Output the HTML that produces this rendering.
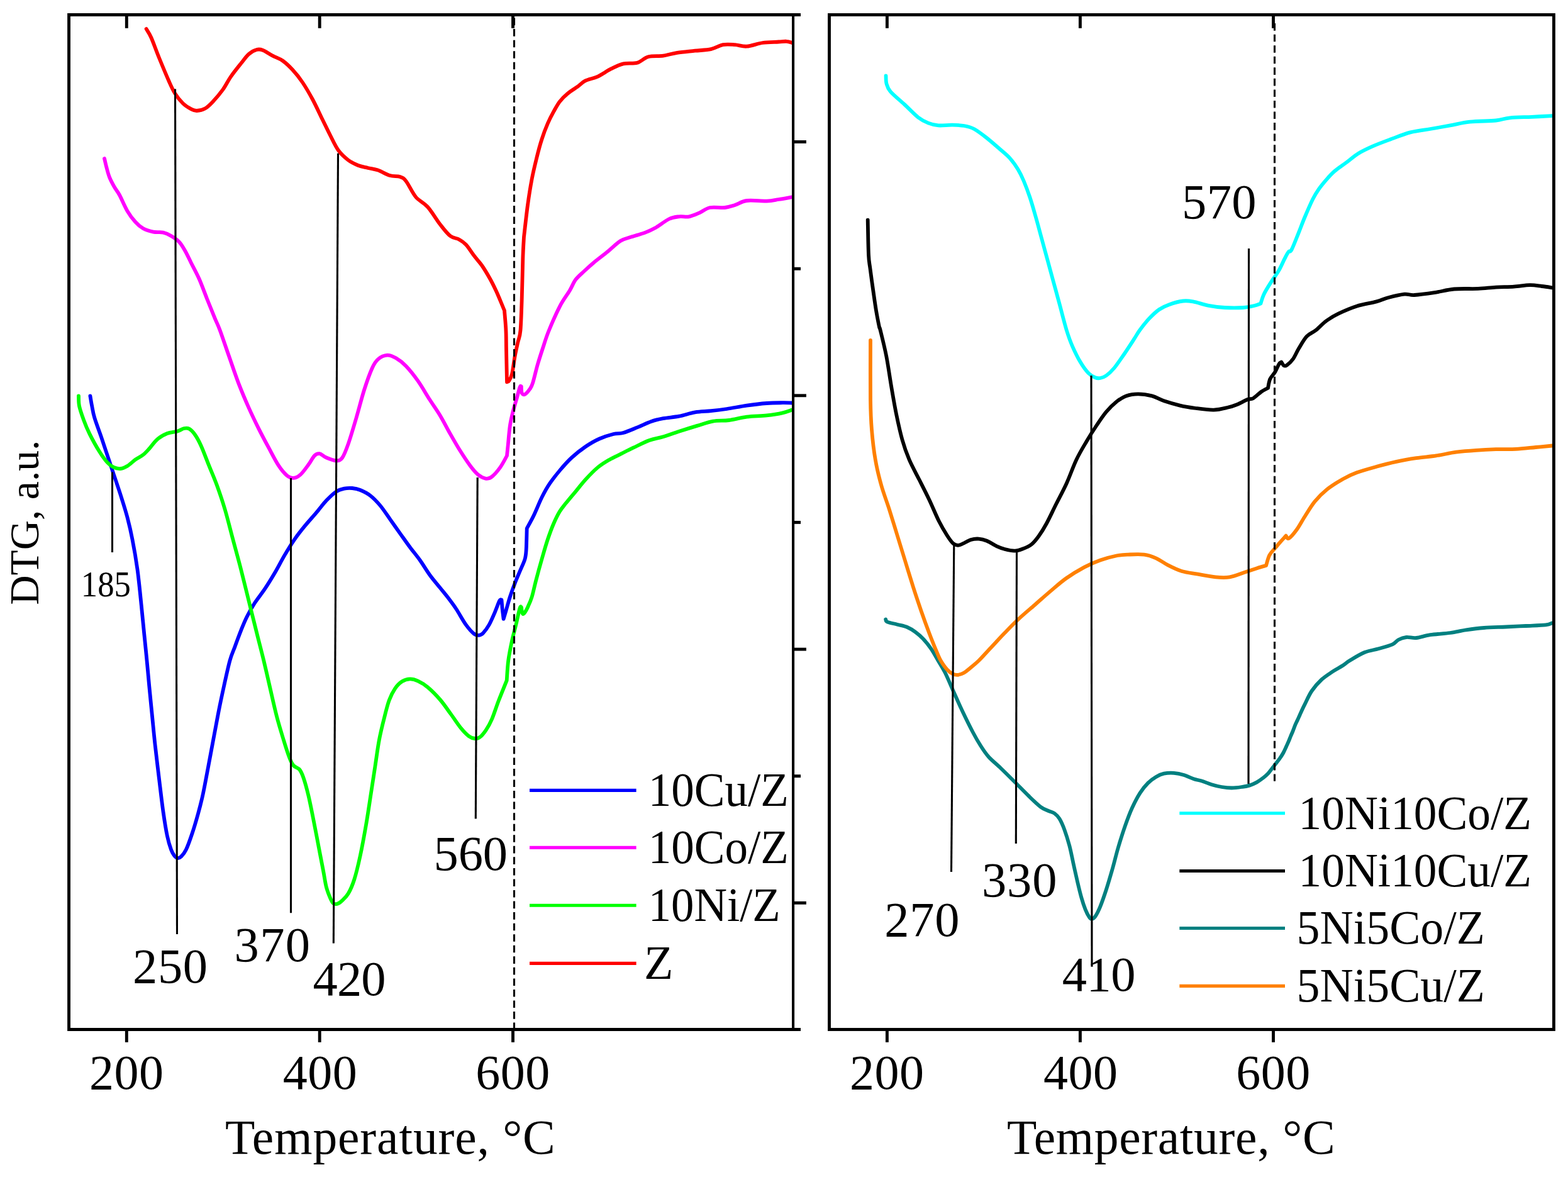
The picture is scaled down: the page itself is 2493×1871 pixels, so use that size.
<!DOCTYPE html>
<html lang="en"><head><meta charset="utf-8"><title>DTG curves</title>
<style>html,body{margin:0;padding:0;background:#fff}body{width:2493px;height:1871px;overflow:hidden}svg{display:block}text{font-family:"Liberation Serif","DejaVu Serif",serif;fill:#000}.c{fill:none;stroke-width:5.8;stroke-linejoin:round;stroke-linecap:round}.f{fill:none;stroke:#000;stroke-width:4.9;stroke-linecap:butt}.t{stroke:#000;stroke-width:4.9}.v{stroke:#000;stroke-width:3.1}.d{stroke:#000;stroke-width:3.1;stroke-dasharray:11.6 5.95}.l{stroke-width:5.1;stroke-linecap:butt}.n{font-size:76px}</style></head><body>
<svg width="2493" height="1871" viewBox="0 0 2493 1871">
<rect width="2493" height="1871" fill="#fff"/>
<path class="c" stroke="#0000ff" d="M143.4 629.4C143.9 632.0 145.0 639.5 146.2 645.3C147.3 651.1 147.8 655.8 150.3 664.2C152.8 672.6 158.0 685.9 161.4 695.9C164.8 705.9 167.7 714.9 170.9 724.4C174.1 733.9 176.7 741.7 180.4 752.8C184.1 763.9 189.3 779.2 193.0 790.8C196.7 802.4 199.6 811.4 202.5 822.5C205.4 833.6 207.8 843.6 210.4 857.3C213.1 871.0 216.0 887.3 218.4 904.7C220.8 922.1 222.9 944.3 224.7 961.7C226.5 979.1 227.9 994.5 229.4 1009.2C230.9 1023.9 232.2 1036.4 233.5 1050.0C234.8 1063.6 235.9 1076.2 237.3 1091.0C238.7 1105.8 240.4 1122.8 242.0 1138.6C243.6 1154.4 244.9 1169.1 246.8 1186.0C248.7 1202.9 251.1 1222.6 253.2 1240.0C255.3 1257.4 257.4 1275.8 259.5 1290.5C261.6 1305.2 263.7 1318.5 265.8 1328.5C267.9 1338.5 270.1 1345.3 272.0 1350.6C273.9 1355.8 275.3 1357.8 277.0 1360.0C278.7 1362.2 280.5 1363.7 282.3 1364.0C284.1 1364.3 285.7 1363.9 288.0 1361.7C290.3 1359.5 293.0 1356.7 295.9 1350.6C298.8 1344.5 302.2 1334.8 305.4 1325.3C308.6 1315.8 312.0 1304.2 314.9 1293.7C317.8 1283.2 320.2 1274.1 322.8 1262.0C325.4 1249.9 327.8 1236.3 330.7 1221.0C333.6 1205.7 337.3 1185.6 340.2 1170.3C343.1 1155.0 345.4 1142.2 348.0 1129.0C350.6 1115.8 353.1 1104.2 356.0 1091.0C358.9 1077.8 362.6 1060.5 365.5 1050.0C368.4 1039.5 370.5 1036.1 373.4 1028.2C376.3 1020.3 379.7 1010.7 382.9 1002.8C386.1 994.9 388.7 988.1 392.4 980.7C396.1 973.3 400.2 965.9 405.0 958.5C409.8 951.1 415.6 944.3 420.9 936.4C426.2 928.5 431.4 920.0 436.7 911.0C442.0 902.0 447.2 891.6 452.5 882.6C457.8 873.6 463.1 864.9 468.4 857.3C473.7 849.6 478.4 843.8 484.2 836.7C490.0 829.6 497.4 821.5 503.2 814.6C509.0 807.8 513.7 801.2 519.0 795.6C524.3 790.0 530.0 784.5 534.8 781.3C539.5 778.1 543.3 777.5 547.5 776.6C551.7 775.7 555.8 775.6 560.0 776.0C564.2 776.4 568.0 777.0 572.8 779.0C577.6 781.0 583.3 783.6 588.6 787.7C593.9 791.8 599.1 797.2 604.4 803.5C609.7 809.8 615.0 818.2 620.3 825.6C625.6 833.0 630.7 840.4 636.0 847.8C641.3 855.2 646.6 862.9 651.9 870.0C657.2 877.1 662.4 883.1 667.7 890.5C673.0 897.9 678.1 906.8 683.5 914.2C688.9 921.6 695.1 928.7 700.0 934.8C704.9 940.9 708.5 945.1 712.7 950.6C716.9 956.1 720.6 960.9 725.3 968.0C730.0 975.1 736.2 986.8 741.0 993.4C745.8 1000.0 750.3 1004.9 753.8 1007.6C757.2 1010.3 759.3 1010.0 761.7 1009.8C764.1 1009.6 765.4 1009.3 768.0 1006.6C770.6 1003.9 774.3 999.0 777.5 993.4C780.7 987.8 784.2 979.2 787.0 972.8C789.8 966.3 792.5 957.9 794.3 954.7C796.0 951.5 797.0 953.9 797.5 953.8C797.7 956.2 798.2 963.0 798.7 968.0C799.2 973.0 800.3 981.2 800.6 983.9C801.2 981.8 802.7 977.0 804.4 971.2C806.1 965.4 808.4 956.4 810.8 949.0C813.2 941.6 816.1 933.8 818.7 927.0C821.3 920.2 824.0 914.3 826.6 908.0C829.2 901.7 832.8 894.8 834.5 889.0C836.2 883.2 836.2 881.2 836.7 873.0C837.2 864.8 837.5 845.5 837.7 840.0C839.5 836.5 844.8 827.5 848.7 819.3C852.7 811.1 857.2 799.2 861.4 790.8C865.6 782.4 869.2 775.8 874.0 768.7C878.8 761.6 884.1 754.9 889.9 748.0C895.7 741.1 902.0 733.8 908.9 727.5C915.8 721.2 923.6 715.0 931.0 710.0C938.4 705.0 945.6 700.8 953.0 697.5C960.4 694.2 969.0 691.6 975.3 690.0C981.6 688.4 984.7 689.8 991.0 688.0C997.3 686.2 1005.9 682.4 1013.3 679.4C1020.7 676.4 1028.6 672.4 1035.4 670.0C1042.2 667.6 1047.0 666.6 1054.4 665.2C1061.8 663.8 1071.3 663.3 1079.7 661.7C1088.1 660.1 1096.5 656.8 1105.0 655.4C1113.5 654.0 1122.0 654.1 1130.4 653.2C1138.9 652.3 1146.2 651.4 1155.7 650.0C1165.2 648.6 1176.8 646.1 1187.3 644.6C1197.8 643.1 1209.5 641.7 1219.0 641.0C1228.5 640.3 1237.6 640.3 1244.3 640.2C1251.0 640.1 1256.7 640.5 1259.2 640.5"/>
<path class="c" stroke="#ff00ff" d="M166.0 252.0C166.6 254.3 168.0 260.9 169.3 265.8C170.6 270.7 171.9 276.3 174.0 281.6C176.1 286.9 179.3 292.8 182.0 297.5C184.7 302.2 186.6 303.7 190.0 310.0C193.4 316.3 198.3 328.3 202.5 335.4C206.7 342.5 211.0 348.1 215.2 352.8C219.4 357.5 223.1 360.7 227.8 363.3C232.6 365.9 238.4 367.6 243.7 368.7C249.0 369.8 254.8 368.6 259.5 369.6C264.2 370.7 267.8 372.5 272.0 375.0C276.2 377.5 281.1 380.6 284.8 384.5C288.5 388.4 291.1 393.2 294.3 398.7C297.5 404.2 300.1 410.3 303.8 417.7C307.5 425.1 312.3 433.5 316.5 443.0C320.7 452.5 324.8 464.1 329.0 474.7C333.2 485.2 338.4 497.9 341.8 506.3C345.2 514.7 346.0 515.0 349.7 525.0C353.4 535.0 359.0 551.8 364.0 566.0C369.0 580.2 374.4 596.7 379.7 610.4C385.0 624.1 390.3 636.5 395.6 648.4C400.9 660.3 406.1 671.0 411.4 681.6C416.7 692.2 421.9 701.9 427.2 711.7C432.5 721.5 438.2 732.9 443.0 740.2C447.8 747.5 451.7 752.1 455.7 755.4C459.7 758.7 463.1 760.0 466.8 759.8C470.5 759.6 473.9 757.9 477.8 754.4C481.8 750.9 486.8 743.6 490.5 738.6C494.2 733.6 497.1 727.3 500.0 724.4C502.9 721.5 504.8 720.7 508.0 721.2C511.2 721.7 514.5 725.6 519.0 727.5C523.5 729.4 530.6 732.3 534.8 732.3C539.0 732.3 541.1 732.0 544.3 727.5C547.5 723.0 550.1 715.9 553.8 705.4C557.5 694.9 562.3 678.4 566.5 664.2C570.7 650.0 574.8 633.2 579.0 620.0C583.2 606.8 588.1 593.2 591.8 585.0C595.5 576.8 597.3 574.3 601.3 570.9C605.2 567.5 610.8 564.9 615.5 564.6C620.2 564.3 624.7 566.4 629.7 569.3C634.7 572.2 639.8 575.9 645.6 582.0C651.4 588.1 658.3 596.7 664.6 605.7C670.9 614.7 677.6 626.6 683.5 635.8C689.4 645.0 694.6 652.0 700.0 661.0C705.4 670.0 710.5 680.4 715.8 689.6C721.1 698.9 726.3 708.1 731.6 716.5C736.9 724.9 742.8 733.9 747.5 740.2C752.2 746.5 755.8 751.0 760.0 754.4C764.2 757.8 769.1 760.3 772.8 760.8C776.5 761.3 778.6 760.5 782.3 757.6C786.0 754.7 791.0 748.9 795.0 743.4C799.0 737.9 804.2 727.6 806.0 724.4C806.3 721.8 806.8 716.4 807.6 708.5C808.4 700.6 809.5 686.0 810.8 677.0C812.1 668.0 813.7 662.1 815.5 654.7C817.3 647.3 819.9 639.2 821.8 632.6C823.6 626.0 825.4 618.3 826.6 615.2C827.8 612.1 828.4 614.4 828.8 614.2C828.9 616.0 828.8 622.6 829.7 624.7C830.7 626.8 832.4 628.0 834.5 627.0C836.6 626.0 840.3 621.4 842.4 618.4C844.5 615.4 844.9 615.5 847.0 608.9C849.1 602.3 852.3 588.0 855.0 578.8C857.7 569.6 860.1 562.3 863.0 553.5C865.9 544.7 868.0 537.0 872.5 526.0C877.0 515.0 884.4 498.0 889.9 487.3C895.4 476.6 901.5 469.1 905.7 462.0C909.9 454.9 911.5 449.6 915.2 444.6C918.9 439.6 923.0 436.5 927.8 432.0C932.5 427.5 937.4 423.0 943.7 417.7C950.0 412.4 958.7 406.1 965.8 400.3C972.9 394.5 980.1 386.9 986.4 383.0C992.7 379.1 997.2 378.8 1003.8 376.6C1010.4 374.4 1019.7 372.0 1026.0 369.6C1032.3 367.2 1035.5 365.9 1041.8 362.3C1048.1 358.7 1057.7 351.0 1064.0 348.0C1070.3 345.0 1074.4 344.9 1079.7 344.3C1085.0 343.7 1090.3 345.2 1095.6 344.3C1100.9 343.4 1105.9 341.0 1111.4 338.6C1116.9 336.2 1122.0 331.4 1128.8 330.0C1135.6 328.6 1145.9 330.7 1152.5 330.0C1159.1 329.3 1162.6 327.8 1168.4 326.0C1174.2 324.2 1178.9 320.1 1187.3 319.0C1195.7 317.9 1210.5 319.9 1219.0 319.6C1227.5 319.3 1231.3 318.1 1238.0 317.0C1244.7 315.9 1255.7 313.9 1259.2 313.3"/>
<path class="c" stroke="#00ff00" d="M125.0 629.4C125.2 632.0 124.7 639.0 126.0 645.3C127.3 651.6 130.3 660.0 133.0 667.4C135.7 674.8 138.2 681.2 142.4 689.6C146.6 698.0 153.4 710.4 158.2 718.0C162.9 725.6 167.2 731.3 170.9 735.4C174.6 739.5 177.0 741.1 180.4 742.7C183.8 744.3 187.8 745.3 191.5 745.0C195.2 744.7 198.6 743.2 202.5 740.8C206.4 738.4 211.0 733.7 215.2 730.7C219.4 727.7 224.1 725.7 227.8 722.8C231.5 719.9 233.6 717.4 237.3 713.3C241.0 709.2 245.2 702.4 250.0 698.4C254.8 694.4 260.5 691.1 265.8 689.0C271.1 686.9 277.1 687.1 281.6 685.8C286.1 684.5 289.5 681.7 292.7 681.0C295.9 680.3 297.7 679.9 300.6 681.6C303.5 683.3 306.8 686.5 310.0 691.0C313.2 695.5 315.9 700.3 319.6 708.5C323.3 716.7 328.1 729.7 332.3 740.2C336.5 750.8 340.8 760.2 345.0 771.8C349.2 783.4 353.4 795.5 357.6 809.8C361.8 824.0 366.1 841.5 370.3 857.3C374.5 873.1 378.8 888.4 383.0 904.7C387.2 921.1 391.4 938.5 395.6 955.4C399.8 972.3 404.2 990.2 408.2 1006.0C412.1 1021.8 415.9 1035.8 419.3 1050.0C422.7 1064.2 425.4 1076.2 428.8 1091.0C432.2 1105.8 436.2 1124.3 439.9 1138.6C443.6 1152.9 447.6 1165.5 451.0 1176.6C454.4 1187.7 457.8 1198.3 460.4 1205.0C463.0 1211.7 464.1 1213.9 466.8 1217.0C469.5 1220.1 473.7 1220.1 476.3 1223.4C478.9 1226.7 480.2 1229.7 482.6 1236.7C485.0 1243.7 487.9 1254.1 490.5 1265.2C493.1 1276.3 495.8 1290.0 498.4 1303.2C501.0 1316.4 503.7 1330.6 506.3 1344.3C508.9 1358.0 512.1 1374.3 514.2 1385.4C516.3 1396.5 517.1 1403.7 519.0 1410.8C520.9 1417.9 523.5 1424.0 525.3 1428.2C527.1 1432.4 528.1 1434.6 530.0 1436.0C531.9 1437.4 534.0 1437.5 536.4 1436.7C538.8 1435.9 541.4 1434.0 544.3 1431.3C547.2 1428.6 550.6 1425.8 553.8 1420.3C557.0 1414.8 560.1 1408.0 563.3 1398.0C566.5 1388.0 569.6 1374.8 572.8 1360.0C576.0 1345.2 579.4 1326.3 582.3 1309.5C585.2 1292.7 587.8 1274.2 590.2 1258.9C592.6 1243.6 594.4 1231.4 596.5 1217.7C598.6 1204.0 600.4 1189.2 602.8 1176.6C605.2 1163.9 608.1 1152.3 610.8 1141.8C613.4 1131.2 615.8 1121.2 618.7 1113.3C621.6 1105.4 624.8 1099.3 628.2 1094.3C631.6 1089.3 635.2 1085.7 639.2 1083.2C643.2 1080.7 647.7 1079.5 651.9 1079.4C656.1 1079.3 659.9 1080.4 664.6 1082.6C669.4 1084.8 674.5 1087.7 680.4 1092.7C686.3 1097.7 693.9 1105.4 700.0 1112.5C706.1 1119.6 711.5 1127.9 717.0 1135.4C722.5 1142.9 728.2 1151.8 733.0 1157.6C737.8 1163.4 741.9 1167.6 745.6 1170.3C749.3 1173.0 752.1 1173.8 755.0 1174.0C757.9 1174.2 760.1 1174.0 763.0 1171.8C765.9 1169.6 769.3 1165.5 772.5 1160.8C775.7 1156.1 778.6 1151.3 782.0 1143.4C785.4 1135.5 789.0 1123.6 793.0 1113.3C797.0 1103.0 803.6 1086.9 805.7 1081.6C806.1 1076.3 806.8 1060.5 808.2 1050.0C809.6 1039.5 812.0 1028.1 814.0 1018.7C816.0 1009.3 818.2 1002.1 820.3 993.4C822.4 984.7 825.1 971.1 826.6 966.5C828.1 961.9 828.6 965.7 829.0 965.5C829.2 967.0 829.7 972.8 830.4 974.4C831.1 976.0 831.5 976.9 833.0 975.3C834.5 973.7 837.1 969.3 839.2 964.9C841.3 960.5 843.5 955.9 845.6 949.0C847.7 942.1 849.3 933.7 851.9 923.7C854.5 913.7 858.2 900.1 861.4 889.0C864.6 877.9 867.7 866.8 870.9 857.3C874.1 847.8 877.2 839.4 880.4 832.0C883.6 824.6 886.7 818.3 889.9 813.0C893.1 807.7 895.2 805.6 899.4 800.3C903.6 795.0 909.9 787.6 915.2 781.3C920.5 775.0 925.2 768.6 931.0 762.3C936.8 756.0 943.7 748.7 950.0 743.4C956.3 738.1 962.7 734.4 969.0 730.7C975.3 727.0 981.7 724.4 988.0 721.2C994.3 718.0 999.6 715.2 1007.0 711.7C1014.4 708.2 1024.4 702.9 1032.3 700.0C1040.2 697.1 1046.5 696.7 1054.4 694.3C1062.3 691.9 1070.7 688.7 1079.7 685.8C1088.7 682.9 1099.2 679.6 1108.2 676.9C1117.2 674.2 1125.0 671.1 1133.5 669.6C1142.0 668.1 1149.9 669.1 1158.9 668.0C1167.9 666.9 1177.3 664.0 1187.3 662.7C1197.3 661.4 1209.5 661.5 1219.0 660.4C1228.5 659.3 1237.6 657.8 1244.3 656.3C1251.0 654.8 1256.7 652.4 1259.2 651.6"/>
<path class="c" stroke="#ff0000" d="M232.6 45.9C233.9 48.2 237.1 52.3 240.5 60.0C243.9 67.7 248.2 80.3 253.0 92.0C257.8 103.7 264.8 120.5 269.0 130.0C273.2 139.5 274.8 143.2 278.5 149.0C282.2 154.8 286.8 160.4 291.0 164.5C295.2 168.6 300.3 171.5 304.0 173.4C307.7 175.3 309.3 176.2 313.0 176.0C316.7 175.8 321.7 174.9 326.0 172.5C330.3 170.1 333.9 166.4 338.6 161.4C343.3 156.4 349.7 149.0 354.4 142.4C359.1 135.8 362.2 128.7 367.0 121.8C371.8 114.9 378.2 107.0 383.0 101.0C387.8 95.0 391.4 89.7 395.6 86.0C399.8 82.3 404.3 80.0 408.0 79.0C411.7 78.0 413.4 78.1 417.7 79.7C421.9 81.3 428.2 85.8 433.5 88.6C438.8 91.4 444.1 92.8 449.4 96.5C454.6 100.2 459.7 105.0 465.0 110.8C470.3 116.5 475.7 123.1 481.0 131.0C486.3 138.9 491.7 148.2 497.0 158.0C502.3 167.8 508.0 180.5 512.7 190.0C517.4 199.5 520.8 206.8 525.0 215.0C529.2 223.2 533.2 232.4 538.0 239.0C542.8 245.6 548.7 250.7 554.0 254.7C559.3 258.7 564.4 260.9 569.6 263.0C574.8 265.1 579.8 265.7 585.0 267.0C590.2 268.3 595.2 268.6 601.0 270.6C606.8 272.6 614.2 277.3 620.0 279.0C625.8 280.7 631.7 279.5 636.0 281.0C640.3 282.5 641.4 282.7 645.6 288.0C649.8 293.3 655.3 306.2 661.0 313.0C666.7 319.8 673.5 321.7 680.0 329.0C686.5 336.3 694.0 349.3 700.0 357.0C706.0 364.7 710.8 371.1 715.8 375.0C720.8 378.9 725.8 378.4 730.0 380.7C734.2 383.0 737.0 384.7 741.0 389.0C745.0 393.3 749.5 401.0 753.8 406.6C758.0 412.2 762.3 416.4 766.5 422.5C770.7 428.6 775.3 436.4 779.0 443.0C782.7 449.6 785.4 455.2 788.6 462.0C791.8 468.8 795.8 478.7 798.0 484.0C800.2 489.3 801.3 492.1 802.0 493.7C802.4 498.9 803.9 514.5 804.4 525.0C804.9 535.5 804.7 542.9 805.0 556.6C805.3 570.3 805.8 598.8 806.0 607.3C806.5 607.0 807.7 607.8 809.0 605.7C810.3 603.6 812.4 601.2 814.0 594.6C815.6 588.0 817.1 574.4 818.7 566.0C820.3 557.6 821.9 550.8 823.4 544.0C824.9 537.2 826.5 536.5 827.5 525.0C828.5 513.5 829.1 493.6 829.7 474.7C830.3 455.8 830.8 427.8 831.3 411.4C831.8 395.0 832.7 382.4 833.0 376.6C834.0 368.2 836.9 341.3 839.0 326.0C841.1 310.7 843.2 297.5 845.6 284.8C848.0 272.1 850.9 260.6 853.5 250.0C856.1 239.4 858.5 230.5 861.4 221.5C864.3 212.5 867.7 203.6 870.9 196.2C874.1 188.8 877.2 183.0 880.4 177.2C883.6 171.4 886.2 166.2 889.9 161.4C893.6 156.7 897.8 152.6 902.5 148.7C907.2 144.8 913.6 141.1 918.4 137.7C923.1 134.3 925.7 130.8 931.0 128.2C936.3 125.5 943.2 125.0 950.0 121.8C956.8 118.6 965.2 112.6 972.0 109.2C978.8 105.8 984.1 102.9 991.0 101.3C997.9 99.7 1006.7 101.5 1013.3 99.7C1019.9 97.9 1023.9 92.1 1030.7 90.2C1037.6 88.3 1046.8 89.6 1054.4 88.6C1062.1 87.5 1068.2 85.2 1076.6 83.9C1085.0 82.6 1096.0 81.7 1105.0 80.7C1114.0 79.8 1123.0 79.8 1130.4 78.2C1137.8 76.6 1143.1 72.4 1149.4 71.2C1155.7 70.0 1162.1 70.8 1168.4 71.2C1174.7 71.6 1179.9 74.2 1187.3 73.7C1194.7 73.2 1204.2 69.2 1212.7 68.0C1221.2 66.8 1231.7 66.9 1238.0 66.5C1244.3 66.1 1247.1 65.5 1250.6 65.8C1254.1 66.0 1257.8 67.6 1259.2 68.0"/>
<path class="c" stroke="#00ffff" d="M1408.5 120.3C1408.7 122.4 1408.3 128.8 1409.5 133.0C1410.7 137.2 1411.0 140.1 1415.8 145.6C1420.5 151.1 1430.6 159.2 1438.0 166.0C1445.4 172.8 1453.7 181.8 1460.0 186.7C1466.3 191.6 1470.7 193.5 1476.0 195.6C1481.3 197.7 1485.5 198.9 1491.8 199.4C1498.1 199.9 1507.1 198.6 1514.0 198.7C1520.9 198.8 1527.2 198.9 1533.0 200.0C1538.8 201.1 1542.9 201.9 1548.7 205.0C1554.5 208.1 1560.8 213.0 1567.7 218.4C1574.6 223.8 1583.7 231.8 1590.0 237.3C1596.3 242.8 1601.0 246.3 1605.7 251.6C1610.4 256.9 1614.7 262.9 1618.4 269.0C1622.1 275.1 1624.7 280.6 1627.8 288.0C1630.9 295.4 1634.1 303.8 1637.3 313.3C1640.5 322.8 1643.6 333.9 1646.8 345.0C1650.0 356.1 1653.1 368.1 1656.3 379.7C1659.5 391.3 1662.6 403.0 1665.8 414.6C1669.0 426.2 1672.1 437.8 1675.3 449.4C1678.5 461.0 1681.4 471.6 1684.8 484.2C1688.2 496.8 1692.4 514.0 1695.8 525.0C1699.2 536.0 1701.3 541.9 1705.0 550.3C1708.7 558.7 1713.5 568.5 1717.7 575.6C1721.9 582.7 1726.4 588.9 1730.4 593.0C1734.4 597.1 1738.3 599.0 1741.5 600.3C1744.7 601.6 1746.5 601.5 1749.4 601.0C1752.3 600.5 1755.2 599.7 1758.9 597.0C1762.6 594.3 1766.8 590.7 1771.5 585.0C1776.2 579.3 1782.0 570.6 1787.3 563.0C1792.5 555.4 1798.9 545.5 1803.0 539.2C1807.1 532.9 1808.0 530.5 1812.0 525.0C1816.0 519.5 1822.0 511.8 1827.2 506.3C1832.4 500.8 1837.7 495.7 1843.0 492.0C1848.3 488.3 1852.6 486.4 1858.9 484.2C1865.2 481.9 1874.7 479.3 1881.0 478.5C1887.3 477.7 1890.0 478.2 1896.8 479.4C1903.6 480.6 1913.5 484.2 1922.0 485.8C1930.5 487.4 1938.5 488.5 1947.5 489.0C1956.5 489.5 1968.1 489.5 1976.0 489.0C1983.9 488.5 1990.3 486.9 1995.0 485.8C1999.7 484.7 2002.8 483.1 2004.4 482.6C2005.2 480.2 2006.6 473.9 2009.2 468.4C2011.8 462.9 2016.3 455.7 2020.3 449.4C2024.3 443.1 2029.3 436.7 2033.0 430.4C2036.7 424.1 2039.8 416.4 2042.4 411.4C2045.0 406.4 2046.8 402.7 2048.7 400.3C2050.5 397.9 2050.8 402.0 2053.5 397.0C2056.2 392.0 2061.1 379.0 2064.6 370.3C2068.1 361.6 2070.8 354.0 2074.6 345.0C2078.4 336.0 2083.6 323.9 2087.3 316.5C2091.0 309.1 2093.1 305.9 2096.8 300.6C2100.5 295.3 2105.3 289.6 2109.5 284.8C2113.7 280.0 2116.8 276.5 2122.0 272.0C2127.2 267.5 2134.7 262.7 2141.0 258.0C2147.3 253.3 2153.1 247.9 2160.0 243.7C2166.9 239.5 2173.8 236.3 2182.2 232.6C2190.6 228.9 2200.7 225.2 2210.7 221.5C2220.7 217.8 2231.8 213.2 2242.4 210.4C2253.0 207.7 2263.4 206.8 2274.0 205.0C2284.6 203.2 2295.1 201.3 2305.7 199.4C2316.2 197.5 2325.2 195.0 2337.3 193.7C2349.4 192.4 2367.9 192.6 2378.5 191.5C2389.1 190.4 2391.1 188.2 2400.6 187.3C2410.1 186.4 2424.2 186.3 2435.4 185.8C2446.6 185.3 2462.6 184.5 2468.0 184.2"/>
<path class="c" stroke="#000000" d="M1379.7 349.7C1379.9 358.9 1380.4 392.1 1381.0 405.0C1381.6 417.9 1382.3 417.5 1383.5 427.0C1384.7 436.5 1386.7 450.9 1388.3 462.0C1389.9 473.1 1391.4 484.2 1393.0 493.7C1394.6 503.2 1396.7 513.8 1397.8 519.0C1398.9 524.2 1397.8 517.2 1399.7 525.0C1401.6 532.8 1406.3 551.2 1409.2 566.0C1412.1 580.8 1414.4 598.3 1417.0 613.6C1419.6 628.9 1422.1 643.8 1425.0 658.0C1427.9 672.2 1431.1 686.9 1434.5 699.0C1437.9 711.1 1441.1 720.2 1445.6 730.7C1450.1 741.2 1456.1 751.8 1461.4 762.3C1466.7 772.8 1471.9 782.9 1477.2 794.0C1482.5 805.1 1488.2 819.3 1493.0 828.8C1497.8 838.3 1502.0 845.2 1505.7 851.0C1509.4 856.8 1512.3 861.0 1515.2 863.6C1518.1 866.2 1520.4 866.7 1523.0 866.8C1525.6 866.9 1527.5 865.7 1531.0 864.2C1534.5 862.7 1539.5 859.3 1543.7 858.0C1547.9 856.7 1552.1 856.3 1556.3 856.6C1560.5 856.9 1564.2 857.8 1569.0 859.8C1573.8 861.8 1580.0 866.2 1584.8 868.4C1589.5 870.6 1592.8 871.8 1597.5 873.0C1602.2 874.2 1608.5 875.7 1613.3 875.6C1618.0 875.5 1621.5 874.2 1626.0 872.5C1630.5 870.8 1636.0 868.5 1640.2 865.2C1644.4 861.9 1647.3 858.0 1651.3 852.5C1655.3 847.0 1659.3 840.7 1664.0 832.0C1668.7 823.3 1674.4 810.8 1679.7 800.3C1685.0 789.8 1690.3 780.3 1695.6 768.7C1700.9 757.1 1706.1 741.8 1711.4 730.7C1716.7 719.6 1721.9 711.2 1727.2 702.2C1732.5 693.2 1737.7 684.9 1743.0 677.0C1748.3 669.1 1753.6 661.0 1758.9 654.7C1764.2 648.4 1769.4 643.2 1774.7 639.0C1780.0 634.8 1784.7 631.5 1790.5 629.4C1796.3 627.3 1802.7 626.3 1809.5 626.3C1816.3 626.3 1824.8 627.6 1831.6 629.4C1838.4 631.2 1843.2 634.8 1850.6 637.3C1858.0 639.8 1867.5 642.6 1876.0 644.6C1884.5 646.6 1892.3 647.8 1901.3 649.0C1910.2 650.2 1921.3 651.8 1929.7 651.6C1938.1 651.4 1945.6 649.3 1951.9 647.8C1958.2 646.3 1962.4 644.8 1967.7 642.7C1973.0 640.6 1979.4 636.6 1983.5 635.0C1987.6 633.4 1988.8 635.2 1992.4 633.2C1996.0 631.2 2001.1 625.7 2005.0 623.0C2008.9 620.3 2014.2 617.8 2016.0 616.8C2016.5 614.4 2017.4 606.7 2019.3 602.5C2021.2 598.3 2024.8 595.5 2027.2 591.5C2029.6 587.5 2031.8 581.4 2033.5 578.8C2035.2 576.1 2036.7 576.1 2037.3 575.6C2038.0 576.5 2039.9 580.5 2041.4 581.3C2042.9 582.1 2043.8 582.1 2046.2 580.4C2048.6 578.7 2052.5 575.4 2055.7 570.9C2058.9 566.4 2061.5 559.6 2065.2 553.5C2068.9 547.4 2073.3 539.2 2077.8 534.5C2082.3 529.8 2086.7 529.2 2092.0 525.0C2097.3 520.8 2103.4 513.9 2109.5 509.5C2115.6 505.1 2120.5 502.2 2128.4 498.4C2136.3 494.6 2147.0 489.9 2157.0 486.7C2167.0 483.5 2180.2 481.7 2188.6 479.4C2197.0 477.1 2200.2 474.9 2207.6 473.0C2215.0 471.1 2226.1 468.4 2232.9 467.7C2239.8 467.0 2240.8 469.4 2248.7 469.0C2256.6 468.6 2269.8 466.8 2280.4 465.2C2291.0 463.6 2300.4 460.6 2312.0 459.5C2323.6 458.4 2338.9 459.4 2350.0 458.9C2361.1 458.4 2369.0 457.1 2378.5 456.6C2388.0 456.1 2398.0 456.3 2407.0 455.7C2416.0 455.1 2424.9 453.3 2432.3 453.2C2439.7 453.1 2445.4 454.3 2451.3 455.0C2457.2 455.7 2465.2 456.9 2468.0 457.3"/>
<path class="c" stroke="#008080" d="M1408.2 984.5C1408.6 985.2 1407.7 987.2 1410.8 988.6C1413.9 990.0 1421.3 991.3 1426.6 992.7C1431.9 994.1 1437.7 995.0 1442.4 997.0C1447.1 999.0 1450.8 1001.3 1455.0 1004.4C1459.2 1007.5 1463.5 1011.0 1467.7 1015.5C1471.9 1020.0 1476.4 1025.5 1480.4 1031.3C1484.4 1037.0 1487.8 1043.7 1491.5 1050.0C1495.2 1056.3 1498.5 1061.1 1502.5 1069.0C1506.5 1076.9 1510.5 1087.0 1515.2 1097.5C1520.0 1108.0 1525.7 1121.2 1531.0 1132.3C1536.3 1143.4 1542.0 1155.0 1546.8 1164.0C1551.5 1173.0 1555.3 1179.4 1559.5 1186.0C1563.7 1192.6 1567.0 1197.7 1572.2 1203.5C1577.5 1209.3 1584.2 1214.4 1591.0 1221.0C1597.8 1227.6 1605.9 1235.6 1613.3 1243.0C1620.7 1250.4 1628.6 1258.6 1635.4 1265.2C1642.2 1271.8 1649.1 1278.6 1654.4 1282.6C1659.7 1286.6 1663.3 1287.3 1667.0 1289.0C1670.7 1290.7 1673.7 1290.9 1676.6 1293.0C1679.5 1295.1 1681.9 1297.3 1684.5 1301.6C1687.1 1305.9 1689.8 1311.9 1692.4 1319.0C1695.0 1326.1 1697.9 1335.3 1700.3 1344.3C1702.7 1353.3 1704.5 1363.3 1706.6 1372.8C1708.7 1382.3 1710.9 1392.3 1713.0 1401.3C1715.1 1410.3 1717.2 1419.2 1719.3 1426.6C1721.4 1434.0 1723.5 1440.3 1725.6 1445.6C1727.7 1450.9 1730.3 1455.7 1732.0 1458.2C1733.7 1460.7 1734.4 1461.1 1736.0 1460.8C1737.6 1460.5 1739.3 1459.9 1741.5 1456.6C1743.7 1453.3 1746.5 1447.9 1749.4 1440.8C1752.3 1433.7 1755.7 1423.8 1758.9 1414.0C1762.1 1404.2 1765.2 1393.4 1768.4 1382.3C1771.6 1371.2 1774.4 1359.1 1777.8 1347.5C1781.2 1335.9 1785.2 1323.2 1788.9 1312.7C1792.6 1302.2 1796.0 1292.9 1800.0 1284.2C1804.0 1275.5 1808.5 1267.0 1812.7 1260.4C1816.9 1253.8 1821.1 1248.8 1825.3 1244.6C1829.5 1240.4 1833.8 1237.5 1838.0 1235.0C1842.2 1232.5 1845.8 1230.7 1850.6 1229.7C1855.3 1228.7 1861.2 1228.4 1866.5 1228.8C1871.8 1229.2 1877.0 1230.4 1882.3 1232.0C1887.5 1233.6 1893.2 1236.7 1898.0 1238.3C1902.8 1239.9 1906.0 1240.0 1910.8 1241.5C1915.6 1243.0 1921.3 1245.6 1926.6 1247.2C1931.9 1248.8 1937.1 1250.1 1942.4 1251.0C1947.7 1251.9 1952.9 1252.5 1958.2 1252.5C1963.5 1252.5 1969.3 1251.7 1974.0 1251.0C1978.7 1250.3 1982.5 1249.8 1986.5 1248.6C1990.5 1247.4 1994.3 1245.6 1998.0 1243.6C2001.7 1241.5 2005.7 1238.6 2008.7 1236.3C2011.7 1234.0 2013.8 1232.1 2016.0 1229.8C2018.2 1227.5 2019.9 1224.9 2021.7 1222.6C2023.5 1220.3 2024.8 1218.7 2026.8 1216.0C2028.8 1213.3 2031.7 1210.0 2034.0 1206.7C2036.3 1203.5 2038.7 1199.8 2040.5 1196.5C2042.3 1193.2 2043.7 1189.9 2045.0 1187.0C2046.3 1184.1 2047.3 1182.0 2048.5 1179.2C2049.7 1176.5 2050.8 1173.4 2052.0 1170.5C2053.2 1167.6 2054.5 1164.8 2055.7 1161.8C2056.9 1158.8 2058.1 1155.3 2059.3 1152.4C2060.5 1149.5 2061.8 1147.2 2063.0 1144.5C2064.2 1141.8 2065.5 1138.9 2066.6 1136.5C2067.7 1134.1 2068.2 1132.8 2069.5 1130.0C2070.8 1127.2 2071.8 1124.8 2074.5 1119.6C2077.2 1114.3 2081.1 1105.0 2085.5 1098.5C2089.9 1092.0 2095.4 1085.7 2101.0 1080.5C2106.6 1075.3 2113.4 1071.2 2119.0 1067.4C2124.6 1063.7 2130.3 1060.9 2134.8 1058.0C2139.3 1055.1 2140.2 1053.5 2146.0 1050.0C2151.8 1046.5 2162.0 1040.1 2169.6 1037.0C2177.2 1033.9 2184.3 1033.4 2191.7 1031.3C2199.1 1029.2 2208.6 1026.8 2213.9 1024.4C2219.2 1022.0 2219.7 1018.9 2223.4 1017.0C2227.1 1015.1 2231.2 1013.5 2236.0 1013.0C2240.8 1012.5 2245.6 1014.6 2251.9 1014.0C2258.2 1013.4 2265.0 1010.5 2274.0 1009.2C2283.0 1007.9 2296.2 1007.3 2305.7 1006.0C2315.2 1004.7 2322.0 1002.6 2331.0 1001.3C2340.0 1000.0 2348.9 998.8 2359.5 998.0C2370.1 997.2 2383.2 997.0 2394.3 996.5C2405.4 996.0 2415.4 995.5 2425.9 995.0C2436.4 994.5 2450.6 994.2 2457.6 993.4C2464.6 992.6 2466.3 990.7 2468.0 990.2"/>
<path class="c" stroke="#ff8000" d="M1384.0 540.8C1384.0 556.6 1383.7 612.1 1384.0 635.8C1384.3 659.5 1384.7 667.4 1386.0 683.2C1387.3 699.0 1389.2 715.9 1391.8 730.7C1394.3 745.5 1397.6 758.6 1401.3 771.8C1405.0 785.0 1409.7 796.6 1413.9 809.8C1418.1 823.0 1422.4 837.3 1426.6 851.0C1430.8 864.7 1435.0 878.3 1439.2 892.0C1443.4 905.7 1447.7 920.0 1451.9 933.2C1456.1 946.4 1460.4 959.1 1464.6 971.2C1468.8 983.3 1473.0 994.9 1477.2 1006.0C1481.4 1017.1 1486.8 1030.4 1489.9 1037.7C1493.0 1045.0 1493.0 1045.6 1495.6 1050.0C1498.2 1054.4 1502.4 1060.6 1505.7 1064.2C1509.0 1067.8 1512.3 1070.1 1515.2 1071.5C1518.1 1072.9 1520.1 1073.1 1523.0 1072.8C1525.9 1072.5 1529.1 1071.6 1532.6 1069.6C1536.0 1067.6 1539.8 1064.3 1543.7 1061.0C1547.7 1057.7 1551.0 1055.2 1556.3 1050.0C1561.6 1044.8 1568.4 1037.0 1575.3 1029.7C1582.2 1022.4 1590.1 1013.6 1597.5 1006.0C1604.9 998.4 1611.7 991.3 1619.6 983.9C1627.5 976.5 1636.5 969.1 1645.0 961.7C1653.5 954.3 1661.9 946.7 1670.3 939.6C1678.7 932.5 1686.6 925.3 1695.6 919.0C1704.5 912.7 1715.0 906.4 1724.0 901.6C1733.0 896.9 1741.0 893.5 1749.4 890.5C1757.9 887.5 1767.3 885.0 1774.7 883.5C1782.1 882.0 1786.3 881.9 1793.7 881.6C1801.1 881.3 1811.6 880.7 1819.0 881.6C1826.4 882.5 1831.7 884.5 1838.0 887.3C1844.3 890.1 1850.2 894.9 1857.0 898.4C1863.8 901.9 1871.1 905.6 1879.0 908.0C1886.9 910.4 1895.4 911.1 1904.4 912.7C1913.4 914.3 1924.6 916.6 1933.0 917.4C1941.4 918.2 1947.2 918.7 1955.0 917.4C1962.8 916.1 1972.4 911.9 1979.7 909.5C1987.0 907.1 1993.2 905.0 1998.7 903.2C2004.2 901.5 2010.6 899.7 2013.0 899.0C2013.9 896.3 2015.9 887.2 2018.3 882.6C2020.7 878.0 2024.1 875.2 2027.2 871.5C2030.3 867.8 2033.8 863.7 2036.7 860.4C2039.6 857.1 2043.3 853.1 2044.6 851.6C2045.4 852.3 2046.4 857.4 2049.3 855.7C2052.2 854.0 2057.8 847.3 2062.0 841.5C2066.2 835.7 2069.8 828.4 2074.6 821.0C2079.3 813.6 2084.7 804.3 2090.5 797.2C2096.3 790.1 2102.1 784.1 2109.5 778.2C2116.9 772.3 2126.9 766.2 2134.8 761.7C2142.7 757.2 2148.0 754.6 2157.0 751.3C2166.0 748.0 2178.1 744.7 2188.6 741.8C2199.1 738.9 2209.6 736.2 2220.2 733.9C2230.8 731.6 2241.3 729.8 2251.9 728.2C2262.5 726.6 2272.9 726.0 2283.5 724.4C2294.1 722.8 2304.6 720.1 2315.2 718.7C2325.8 717.3 2336.2 716.5 2346.8 715.8C2357.4 715.0 2368.0 714.5 2378.5 714.2C2389.0 713.9 2399.5 714.4 2410.0 713.9C2420.5 713.4 2432.0 711.9 2441.7 711.0C2451.4 710.1 2463.6 708.9 2468.0 708.5"/>
<line class="v" x1="278.5" y1="141.5" x2="281.5" y2="1485.0"/>
<line class="v" x1="462.5" y1="760.0" x2="462.5" y2="1451.3"/>
<line class="v" x1="537.5" y1="243.7" x2="530.3" y2="1499.4"/>
<line class="v" x1="759.2" y1="759.0" x2="756.3" y2="1301.6"/>
<line class="v" x1="178.5" y1="750.5" x2="178.5" y2="878.0"/>
<line class="v" x1="1516.8" y1="866.8" x2="1512.5" y2="1386.0"/>
<line class="v" x1="1616.5" y1="875.6" x2="1615.3" y2="1341.0"/>
<line class="v" x1="1735.0" y1="597.0" x2="1736.0" y2="1536.7"/>
<line class="v" x1="1985.5" y1="395.0" x2="1985.0" y2="1246.0"/>
<line class="d" x1="817.5" y1="28.55" x2="817.5" y2="1636.5"/>
<line class="d" x1="2026.5" y1="37.1" x2="2026.5" y2="1241.7"/>
<path class="f" d="M107.10 23.50H1273.00M107.10 1636.55H1273.00M109.55 23.50V1636.55"/>
<line stroke="#000" stroke-width="4.1" x1="1261.05" y1="23.50" x2="1261.05" y2="1636.55"/>
<rect class="f" x="1318.5" y="23.5" width="1151.9" height="1613.0"/>
<line class="t" x1="201.3" y1="23.5" x2="201.3" y2="44.8"/>
<line class="t" x1="201.3" y1="1636.5" x2="201.3" y2="1656.8"/>
<line class="t" x1="508.2" y1="23.5" x2="508.2" y2="44.8"/>
<line class="t" x1="508.2" y1="1636.5" x2="508.2" y2="1656.8"/>
<line class="t" x1="815.5" y1="23.5" x2="815.5" y2="44.8"/>
<line class="t" x1="815.5" y1="1636.5" x2="815.5" y2="1656.8"/>
<line class="t" x1="1410.4" y1="23.5" x2="1410.4" y2="44.8"/>
<line class="t" x1="1410.4" y1="1636.5" x2="1410.4" y2="1656.8"/>
<line class="t" x1="1717.4" y1="23.5" x2="1717.4" y2="44.8"/>
<line class="t" x1="1717.4" y1="1636.5" x2="1717.4" y2="1656.8"/>
<line class="t" x1="2024.5" y1="23.5" x2="2024.5" y2="44.8"/>
<line class="t" x1="2024.5" y1="1636.5" x2="2024.5" y2="1656.8"/>
<line stroke="#000" stroke-width="4.9" x1="1261.0" y1="225.5" x2="1281.9" y2="225.5"/>
<line stroke="#000" stroke-width="4.9" x1="1261.0" y1="427.2" x2="1273.0" y2="427.2"/>
<line stroke="#000" stroke-width="4.9" x1="1261.0" y1="628.8" x2="1281.9" y2="628.8"/>
<line stroke="#000" stroke-width="4.9" x1="1261.0" y1="830.4" x2="1273.0" y2="830.4"/>
<line stroke="#000" stroke-width="4.9" x1="1261.0" y1="1032.1" x2="1281.9" y2="1032.1"/>
<line stroke="#000" stroke-width="4.9" x1="1261.0" y1="1233.7" x2="1273.0" y2="1233.7"/>
<line stroke="#000" stroke-width="4.9" x1="1261.0" y1="1435.3" x2="1281.9" y2="1435.3"/>
<text x="142.1" y="1730.6" font-size="78" textLength="118.0" lengthAdjust="spacing">200</text>
<text x="449.8" y="1730.6" font-size="78" textLength="118.0" lengthAdjust="spacing">400</text>
<text x="756.2" y="1730.6" font-size="78" textLength="118.0" lengthAdjust="spacing">600</text>
<text x="1351.1" y="1730.6" font-size="78" textLength="118.0" lengthAdjust="spacing">200</text>
<text x="1659.0" y="1730.6" font-size="78" textLength="118.0" lengthAdjust="spacing">400</text>
<text x="1965.3" y="1730.6" font-size="78" textLength="118.0" lengthAdjust="spacing">600</text>
<text x="358.0" y="1834.3" font-size="77.5" textLength="524.8" lengthAdjust="spacing">Temperature, °C</text>
<text x="1601.0" y="1834.3" font-size="77.5" textLength="521.7" lengthAdjust="spacing">Temperature, °C</text>
<text transform="translate(60.9,961.8) rotate(-90)" font-size="66" textLength="262.3" lengthAdjust="spacingAndGlyphs">DTG, a.u.</text>
<text x="211.0" y="1562.2" font-size="78.5" textLength="119.0" lengthAdjust="spacing">250</text>
<text x="372.6" y="1528.0" font-size="78.5" textLength="120.5" lengthAdjust="spacing">370</text>
<text x="497.6" y="1581.5" font-size="78.5" textLength="116.0" lengthAdjust="spacing">420</text>
<text x="689.6" y="1382.5" font-size="78.5" textLength="117.5" lengthAdjust="spacing">560</text>
<text x="128.8" y="947.6" font-size="58" textLength="79.1" lengthAdjust="spacingAndGlyphs">185</text>
<text x="1406.3" y="1488.0" font-size="78.5" textLength="119.2" lengthAdjust="spacing">270</text>
<text x="1560.9" y="1424.6" font-size="78.5" textLength="119.5" lengthAdjust="spacing">330</text>
<text x="1688.8" y="1575.2" font-size="78.5" textLength="116.8" lengthAdjust="spacing">410</text>
<text x="1878.9" y="347.3" font-size="78.5" textLength="118.7" lengthAdjust="spacing">570</text>
<line class="l" stroke="#0000ff" x1="842" y1="1256.4" x2="1011.6" y2="1256.4"/>
<text x="1030.7" y="1281.3" font-size="76" textLength="223.2" lengthAdjust="spacingAndGlyphs">10Cu/Z</text>
<line class="l" stroke="#ff00ff" x1="842" y1="1347.4" x2="1011.6" y2="1347.4"/>
<text x="1030.7" y="1372.3" font-size="76" textLength="223.2" lengthAdjust="spacingAndGlyphs">10Co/Z</text>
<line class="l" stroke="#00ff00" x1="842" y1="1439.2" x2="1011.6" y2="1439.2"/>
<text x="1030.7" y="1464.1" font-size="76" textLength="210.1" lengthAdjust="spacingAndGlyphs">10Ni/Z</text>
<line class="l" stroke="#ff0000" x1="842" y1="1531.4" x2="1011.6" y2="1531.4"/>
<text x="1024.0" y="1556.3" font-size="76">Z</text>
<line class="l" stroke="#00ffff" x1="1875.3" y1="1292.7" x2="2043" y2="1292.7"/>
<text x="2064.6" y="1317.6" font-size="76" textLength="370.5" lengthAdjust="spacingAndGlyphs">10Ni10Co/Z</text>
<line class="l" stroke="#000000" x1="1875.3" y1="1384.5" x2="2043" y2="1384.5"/>
<text x="2064.6" y="1409.4" font-size="76" textLength="370.5" lengthAdjust="spacingAndGlyphs">10Ni10Cu/Z</text>
<line class="l" stroke="#008080" x1="1875.3" y1="1475.5" x2="2043" y2="1475.5"/>
<text x="2061.6" y="1500.4" font-size="76" textLength="299.2" lengthAdjust="spacingAndGlyphs">5Ni5Co/Z</text>
<line class="l" stroke="#ff8000" x1="1875.3" y1="1567.4" x2="2043" y2="1567.4"/>
<text x="2061.6" y="1592.3" font-size="76" textLength="299.2" lengthAdjust="spacingAndGlyphs">5Ni5Cu/Z</text>
</svg></body></html>
